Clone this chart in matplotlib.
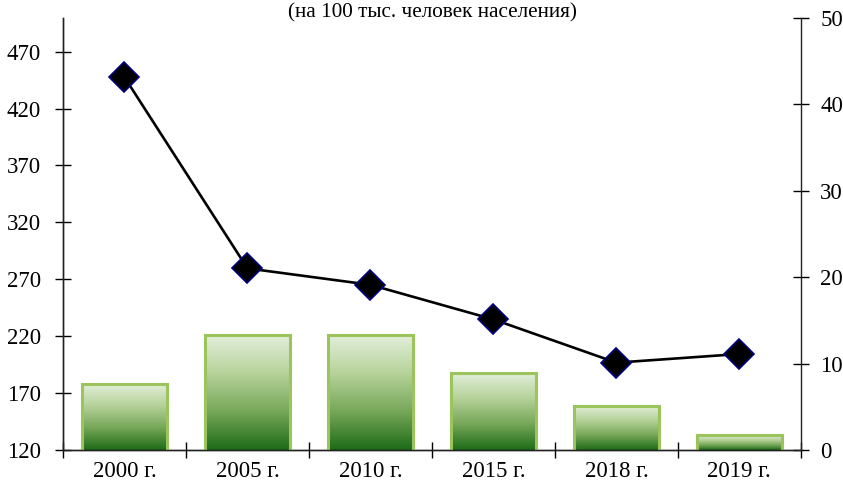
import numpy as np
import matplotlib.pyplot as plt
from matplotlib.colors import LinearSegmentedColormap

# данные
years = ["2000 г.", "2005 г.", "2010 г.", "2015 г.", "2018 г.", "2019 г."]
bar_vals = [178, 221, 221, 188, 159, 133]
line_vals = [43.1, 21.0, 19.1, 15.1, 10.1, 11.1]
left_ticks = [120, 170, 220, 270, 320, 370, 420, 470]
right_ticks = [0, 10, 20, 30, 40, 50]

plt.rcParams['font.family'] = ['Liberation Serif', 'DejaVu Serif']
plt.rcParams['font.size'] = 16.5

fig = plt.figure(figsize=(8.43, 4.84), dpi=100)
ax = fig.add_axes([0.0747, 0.0702, 0.8753, 0.8936])
ax2 = ax.twinx()

x = np.arange(len(years))
cmap = LinearSegmentedColormap.from_list("g", ["#1d6b17", "#76a758", "#b6d29a", "#e3efdb"])
grad = np.linspace(0, 1, 256).reshape(-1, 1)

bars = ax.bar(x, bar_vals, width=0.69, bottom=0, color="none",
              edgecolor="#9bc45c", linewidth=2.2, zorder=3)
for b in bars:
    x0, w, h = b.get_x(), b.get_width(), b.get_height()
    im = ax.imshow(grad, cmap=cmap, origin="lower", aspect="auto",
                   extent=[x0, x0 + w, 120, h], zorder=2)
    im.set_clip_path(b)
ax.set_xlim(-0.5, len(years) - 0.5)
ax.set_ylim(120, 500)

ax2.plot(x, line_vals, color="black", linewidth=1.9, marker="D", markersize=15,
         markerfacecolor="black", markeredgecolor="#000080", markeredgewidth=1.2,
         zorder=5)
ax2.set_ylim(0, 50)
ax.set_zorder(1)
ax2.set_zorder(2)
ax2.patch.set_visible(False)

ax.set_yticks(left_ticks)
ax2.set_yticks(right_ticks)
ax.set_xticks(x)
ax.set_xticklabels(years)
ax.set_xticks(np.arange(len(years) + 1) - 0.5, minor=True)
ax.tick_params(axis="x", which="major", length=0, pad=8)
ax.tick_params(axis="x", which="minor", direction="inout", length=12, width=1)
ax.tick_params(axis="y", direction="inout", length=12, width=1, pad=10)
ax2.tick_params(axis="y", direction="inout", length=12, width=1, pad=8)

for a in (ax, ax2):
    a.spines["top"].set_visible(False)
    for s in a.spines.values():
        s.set_linewidth(1)
        s.set_color("#222222")
ax.spines["right"].set_visible(False)

# заголовок в оригинале обрезан сверху, здесь чуть ниже, чтобы был виден целиком
fig.text(0.513, 1 - 3 / 484, "(на 100 тыс. человек населения)",
         ha="center", va="top", fontsize=15.3)

fig.savefig("out.png", dpi=100)
